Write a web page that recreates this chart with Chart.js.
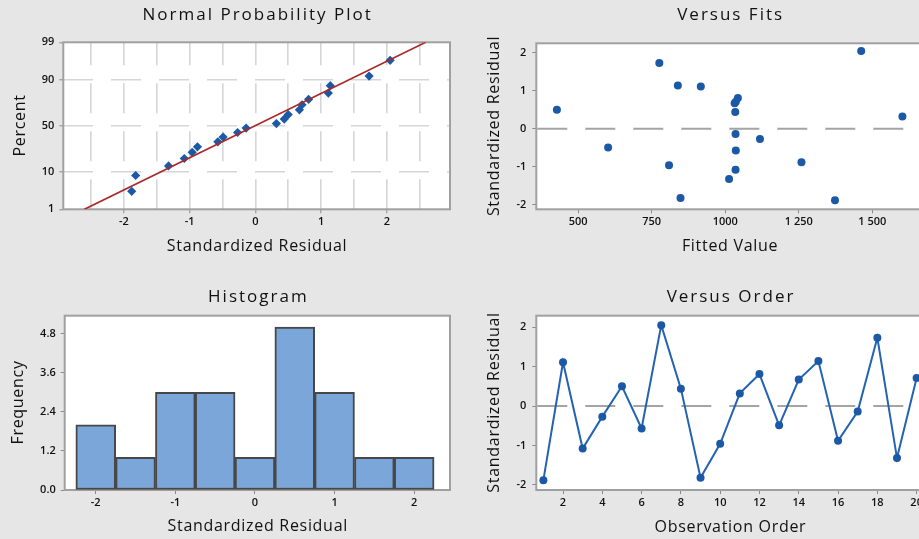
<!DOCTYPE html>
<html>
<head>
<meta charset="utf-8">
<title>Residual Plots</title>
<script src="https://cdn.jsdelivr.net/npm/chart.js@4.4.1/dist/chart.umd.min.js"></script>
<style>
  html, body { margin: 0; padding: 0; background: #e6e6e6; width: 919px; height: 539px; overflow: hidden; }
  .panel { position: absolute; }
  .panel canvas { display: block; }
</style>
</head>
<body>
<div class="panel" style="left:0px;top:0px;"><canvas id="normalPlot" width="460" height="270"></canvas></div>
<div class="panel" style="left:459px;top:0px;"><canvas id="fitsPlot" width="470" height="270"></canvas></div>
<div class="panel" style="left:0px;top:270px;"><canvas id="histPlot" width="460" height="269"></canvas></div>
<div class="panel" style="left:459px;top:270px;"><canvas id="orderPlot" width="470" height="269"></canvas></div>

<script>
// ---- Residual data (20 observations) ----
const observation = [1, 2, 3, 4, 5, 6, 7, 8, 9, 10, 11, 12, 13, 14, 15, 16, 17, 18, 19, 20];
const stdResidual = [-1.88, 1.11, -1.08, -0.27, 0.50, -0.57, 2.05, 0.44, -1.82, -0.96,
                     0.32, 0.81, -0.49, 0.67, 1.14, -0.88, -0.14, 1.73, -1.32, 0.71];
const fittedValue = [1373, 917, 1035, 1118, 428, 1036, 1462, 1034, 848, 809,
                     1602, 1043, 602, 1032, 839, 1259, 1035, 776, 1013, 1036];

// Normal probability plot: ordered residuals and their plotting percentages
const orderedResidual = [-1.88, -1.82, -1.32, -1.08, -0.96, -0.88, -0.57, -0.49, -0.27, -0.14,
                         0.32, 0.44, 0.50, 0.67, 0.71, 0.81, 1.11, 1.14, 1.73, 2.05];
const plotPercent = [3.4, 8.3, 13.2, 18.1, 23.0, 27.9, 32.8, 37.7, 42.6, 47.5,
                     52.5, 57.4, 62.3, 67.2, 72.1, 77.0, 81.9, 86.8, 91.7, 96.6];
const fitLineResidual = [-2.60, 2.59];
const fitLinePercent = [1, 99];

// Histogram bins
const binCenter = [-2, -1.5, -1, -0.5, 0, 0.5, 1, 1.5, 2];
const binFrequency = [2, 1, 3, 3, 1, 5, 3, 1, 1];

// Tick values and labels
const percentTicks = [1, 10, 50, 90, 99];
const residualTicks = [-2, -1, 0, 1, 2];
const residualGrid = [-2.5, -2, -1.5, -1, -0.5, 0, 0.5, 1, 1.5, 2, 2.5];
const fitsTicks = [500, 750, 1000, 1250, 1500];
const fitsTickLabels = ['500', '750', '1000', '1 250', '1 500'];
const frequencyTicks = [0, 1.2, 2.4, 3.6, 4.8];
const orderTicks = [2, 4, 6, 8, 10, 12, 14, 16, 18, 20];
const referenceResidual = 0;

// ---- Styling ----
const FONT = '"Open Sans", "Noto Sans", "DejaVu Sans", sans-serif';
const TEXT = '#111111';
const POINT = '#1b58a5';
const LINE_BLUE = '#2462b2';
const FIT_RED = '#a82a2a';
const TICK_MARK = '#8a8a8a';
const FRAME = '#a0a0a0';

Chart.defaults.font.family = FONT;
Chart.defaults.color = TEXT;
Chart.defaults.animation = false;
Chart.defaults.devicePixelRatio = 1;
Chart.defaults.responsive = false;
Chart.defaults.plugins.legend.display = false;
Chart.defaults.plugins.tooltip.enabled = false;

// Inverse standard normal CDF (used for the probability axis)
function probit(p) {
  const a = [-3.969683028665376e+01, 2.209460984245205e+02, -2.759285104469687e+02,
             1.383577518672690e+02, -3.066479806614716e+01, 2.506628277459239e+00];
  const b = [-5.447609879822406e+01, 1.615858368580409e+02, -1.556989798598866e+02,
             6.680131188771972e+01, -1.328068155288572e+01];
  const c = [-7.784894002430293e-03, -3.223964580411365e-01, -2.400758277161838e+00,
             -2.549732539343734e+00, 4.374664141464968e+00, 2.938163982698783e+00];
  const d = [7.784695709041462e-03, 3.224671290700398e-01, 2.445134137142996e+00,
             3.754408661907416e+00];
  const pl = 0.02425, ph = 1 - pl;
  let q, r;
  if (p < pl) {
    q = Math.sqrt(-2 * Math.log(p));
    return (((((c[0]*q+c[1])*q+c[2])*q+c[3])*q+c[4])*q+c[5]) / ((((d[0]*q+d[1])*q+d[2])*q+d[3])*q+1);
  }
  if (p <= ph) {
    q = p - 0.5; r = q * q;
    return (((((a[0]*r+a[1])*r+a[2])*r+a[3])*r+a[4])*r+a[5])*q / (((((b[0]*r+b[1])*r+b[2])*r+b[3])*r+b[4])*r+1);
  }
  q = Math.sqrt(-2 * Math.log(1 - p));
  return -(((((c[0]*q+c[1])*q+c[2])*q+c[3])*q+c[4])*q+c[5]) / ((((d[0]*q+d[1])*q+d[2])*q+d[3])*q+1);
}

// White plot area, grey frame and the dashed zero reference line
const plotFrame = {
  id: 'plotFrame',
  beforeDraw(chart) {
    const { ctx, chartArea: a } = chart;
    ctx.save();
    ctx.fillStyle = '#e6e6e6';
    ctx.fillRect(0, 0, chart.width, chart.height);
    ctx.fillStyle = '#ffffff';
    ctx.fillRect(a.left, a.top, a.right - a.left, a.bottom - a.top);
    ctx.restore();
  },
  beforeDatasetsDraw(chart, args, opts) {
    const { ctx, chartArea: a } = chart;
    ctx.save();
    if (opts.reference !== undefined && opts.reference !== null) {
      const y = chart.scales.y.getPixelForValue(opts.reference);
      ctx.strokeStyle = '#a4a4a4';
      ctx.lineWidth = 2;
      ctx.setLineDash([30, 18]);
      ctx.beginPath();
      ctx.moveTo(a.left + 1, y);
      ctx.lineTo(a.right, y);
      ctx.stroke();
      ctx.setLineDash([]);
    }
    ctx.strokeStyle = FRAME;
    ctx.lineWidth = 2;
    ctx.strokeRect(a.left, a.top, a.right - a.left, a.bottom - a.top);
    ctx.restore();
  }
};

// Panel title and axis titles, laid out around the plot area
const panelText = {
  id: 'panelText',
  afterDraw(chart, args, o) {
    const { ctx, chartArea: a } = chart;
    const cx = (a.left + a.right) / 2;
    const cy = (a.top + a.bottom) / 2;
    ctx.save();
    ctx.fillStyle = TEXT;
    ctx.textAlign = 'center';
    ctx.textBaseline = 'middle';
    ctx.font = '500 17px ' + FONT;
    ctx.letterSpacing = '2px';
    ctx.fillText(o.title, cx + 1, a.top - o.titleGap);
    ctx.font = '500 16px ' + FONT;
    ctx.letterSpacing = '0.7px';
    ctx.fillText(o.xTitle, cx + 0.4, a.bottom + o.xTitleGap);
    ctx.translate(a.left - o.yTitleGap, cy);
    ctx.rotate(-Math.PI / 2);
    ctx.fillText(o.yTitle, 0.4, 0);
    ctx.restore();
  }
};

Chart.register(plotFrame, panelText);

const tickFont = { family: FONT, size: 11, weight: '600' };

function fixWidth(w) { return s => { s.width = w; }; }
function fixHeight(h) { return s => { s.height = h; }; }
function setTicks(values) { return s => { s.ticks = values.map(v => ({ value: v })); }; }

function axisBase(extra) {
  return Object.assign({
    type: 'linear',
    offset: false,
    border: { display: false },
    grid: { drawOnChartArea: false, drawTicks: true, tickLength: 4, tickColor: TICK_MARK, tickWidth: 1, offset: false },
    ticks: { font: tickFont, color: TEXT, autoSkip: false, maxRotation: 0, padding: 2 }
  }, extra);
}

// ---- Normal Probability Plot ----
new Chart(document.getElementById('normalPlot'), {
  type: 'scatter',
  data: {
    datasets: [
      {
        type: 'line',
        data: fitLineResidual.map((r, i) => ({ x: r, y: probit(fitLinePercent[i] / 100) })),
        borderColor: FIT_RED,
        borderWidth: 1.7,
        pointRadius: 0,
        showLine: true
      },
      {
        data: orderedResidual.map((r, i) => ({ x: r, y: probit(plotPercent[i] / 100) })),
        backgroundColor: POINT,
        borderWidth: 0,
        pointStyle: 'rectRot',
        pointRadius: 4.6
      }
    ]
  },
  options: {
    layout: { padding: { left: 0, top: 42.3, right: 10, bottom: 0 } },
    scales: {
      x: axisBase({
        min: -2.92, max: 2.96,
        afterBuildTicks: setTicks(residualGrid),
        afterFit: fixHeight(60.7),
        border: { display: false, dash: [30, 18], dashOffset: 7 },
        grid: {
          drawOnChartArea: true, drawTicks: true, tickLength: 4, tickWidth: 1, lineWidth: 1.6,
          color: '#d6d6d6',
          tickColor: c => Number.isInteger(c.tick.value) ? TICK_MARK : 'rgba(0,0,0,0)'
        },
        ticks: {
          font: tickFont, color: TEXT, autoSkip: false, maxRotation: 0, padding: 2,
          callback: v => Number.isInteger(v) ? String(v) : ''
        }
      }),
      y: axisBase({
        min: probit(0.01), max: probit(0.99),
        afterBuildTicks: s => { s.ticks = percentTicks.map(p => ({ value: probit(p / 100) })); },
        afterFit: fixWidth(63.3),
        border: { display: false, dash: [30, 18], dashOffset: 0 },
        grid: {
          drawOnChartArea: true, drawTicks: true, tickLength: 4, tickWidth: 1, lineWidth: 1.6,
          color: c => (c.index === 0 || c.index === percentTicks.length - 1) ? 'rgba(0,0,0,0)' : '#d6d6d6',
          tickColor: TICK_MARK
        },
        ticks: {
          font: tickFont, color: TEXT, autoSkip: false, padding: 5,
          callback: (v, i) => String(percentTicks[i])
        }
      })
    },
    plugins: {
      plotFrame: {},
      panelText: { title: 'Normal Probability Plot', xTitle: 'Standardized Residual', yTitle: 'Percent',
                   titleGap: 27.3, xTitleGap: 36.7, yTitleGap: 43.3 }
    }
  }
});

// ---- Versus Fits ----
new Chart(document.getElementById('fitsPlot'), {
  type: 'scatter',
  data: {
    datasets: [{
      data: fittedValue.map((f, i) => ({ x: f, y: stdResidual[i] })),
      backgroundColor: POINT,
      borderWidth: 0,
      pointRadius: 4
    }]
  },
  options: {
    layout: { padding: { left: 0, top: 43.3, right: 6, bottom: 0 } },
    scales: {
      x: axisBase({
        min: 358, max: 1672,
        afterBuildTicks: setTicks(fitsTicks),
        afterFit: fixHeight(60.7),
        ticks: { font: tickFont, color: TEXT, autoSkip: false, maxRotation: 0, padding: 2,
                 callback: (v, i) => fitsTickLabels[i] }
      }),
      y: axisBase({
        min: -2.12, max: 2.25,
        afterBuildTicks: setTicks(residualTicks),
        afterFit: fixWidth(77.3),
        ticks: { font: tickFont, color: TEXT, autoSkip: false, padding: 6, callback: v => String(v) }
      })
    },
    plugins: {
      plotFrame: { reference: referenceResidual },
      panelText: { title: 'Versus Fits', xTitle: 'Fitted Value', yTitle: 'Standardized Residual',
                   titleGap: 28.3, xTitleGap: 37, yTitleGap: 42.3 }
    }
  }
});

// ---- Histogram ----
new Chart(document.getElementById('histPlot'), {
  type: 'bar',
  data: {
    datasets: [{
      data: binCenter.map((c, i) => ({ x: c, y: binFrequency[i] })),
      backgroundColor: '#7ba6d9',
      borderColor: '#474747',
      borderWidth: 2,
      borderSkipped: false,
      barPercentage: 1,
      categoryPercentage: 1
    }]
  },
  options: {
    layout: { padding: { left: 0, top: 45.7, right: 10, bottom: 0 } },
    scales: {
      x: axisBase({
        min: -2.39, max: 2.45,
        afterBuildTicks: setTicks(residualTicks),
        afterFit: fixHeight(49),
        ticks: { font: tickFont, color: TEXT, autoSkip: false, maxRotation: 0, padding: 2, callback: v => String(v) }
      }),
      y: axisBase({
        min: 0, max: 5.35,
        afterBuildTicks: setTicks(frequencyTicks),
        afterFit: fixWidth(64.7),
        ticks: { font: tickFont, color: TEXT, autoSkip: false, padding: 5, callback: v => v.toFixed(1) }
      })
    },
    plugins: {
      plotFrame: {},
      panelText: { title: 'Histogram', xTitle: 'Standardized Residual', yTitle: 'Frequency',
                   titleGap: 19, xTitleGap: 36, yTitleGap: 46 }
    }
  }
});

// ---- Versus Order ----
new Chart(document.getElementById('orderPlot'), {
  type: 'line',
  data: {
    datasets: [{
      data: observation.map((n, i) => ({ x: n, y: stdResidual[i] })),
      borderColor: LINE_BLUE,
      borderWidth: 2,
      pointBackgroundColor: POINT,
      pointBorderWidth: 0,
      pointRadius: 4,
      tension: 0
    }]
  },
  options: {
    layout: { padding: { left: 0, top: 45.7, right: 5.3, bottom: 0 } },
    scales: {
      x: axisBase({
        min: 0.64, max: 20.36,
        afterBuildTicks: setTicks(orderTicks),
        afterFit: fixHeight(49),
        ticks: { font: tickFont, color: TEXT, autoSkip: false, maxRotation: 0, padding: 2, callback: v => String(v) }
      }),
      y: axisBase({
        min: -2.13, max: 2.29,
        afterBuildTicks: setTicks(residualTicks),
        afterFit: fixWidth(77.3),
        ticks: { font: tickFont, color: TEXT, autoSkip: false, padding: 6, callback: v => String(v) }
      })
    },
    plugins: {
      plotFrame: { reference: referenceResidual },
      panelText: { title: 'Versus Order', xTitle: 'Observation Order', yTitle: 'Standardized Residual',
                   titleGap: 19, xTitleGap: 37, yTitleGap: 42.3 }
    }
  }
});
</script>
</body>
</html>
